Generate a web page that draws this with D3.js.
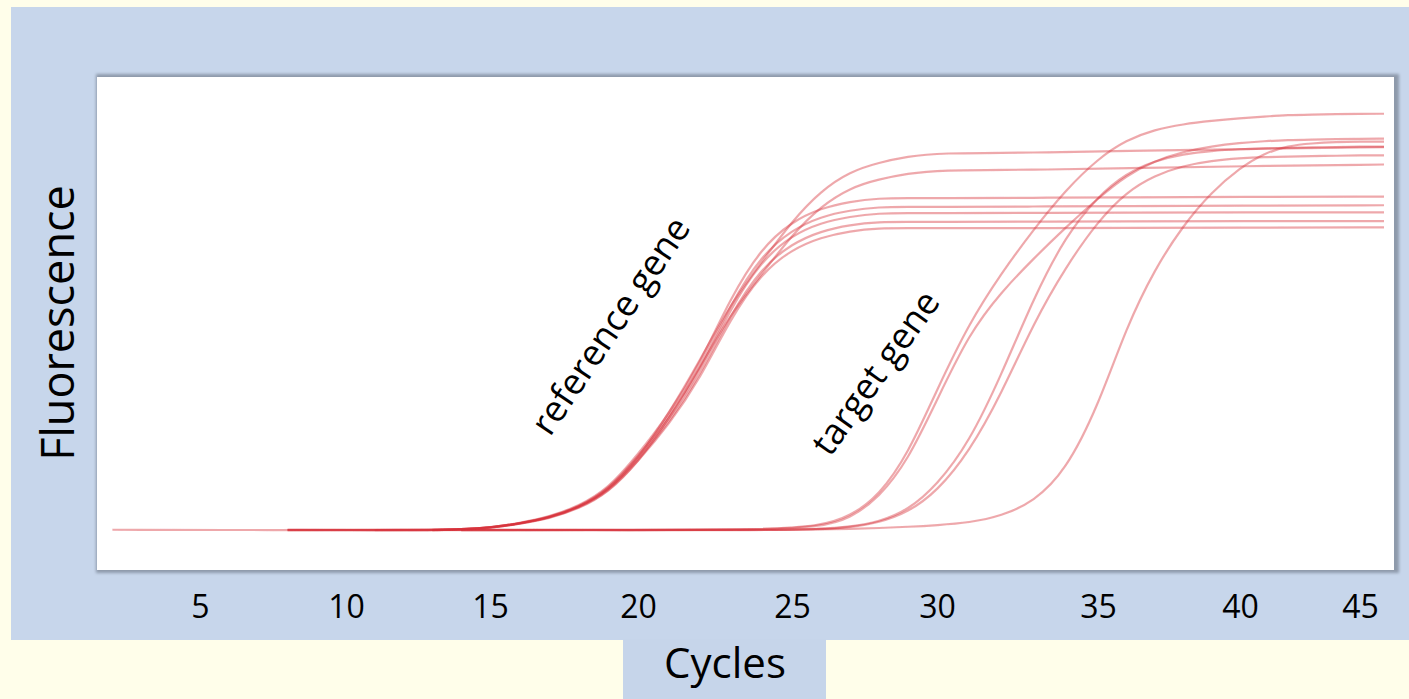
<!DOCTYPE html>
<html>
<head>
<meta charset="utf-8">
<script src="https://cdn.jsdelivr.net/npm/d3@7"></script>
<style>
  html, body { margin: 0; padding: 0; background: #fffeea; }
  svg { display: block; }
  text { font-family: "Open Sans", "Noto Sans", sans-serif; fill: #000; }
</style>
</head>
<body>
<svg id="chart" width="1409" height="699"></svg>
<script>
// ---------------- DATA ----------------
const xTicks = [5, 10, 15, 20, 25, 30, 35, 40, 45];
const xTitle = "Cycles";
const yTitle = "Fluorescence";
const labelRef = "reference gene";
const labelTarget = "target gene";

// reference gene curves (cycle, fluorescence)
const refCycles = [2, 8, 11, 13, 14, 15, 16, 17, 18, 19, 20, 21, 22, 23, 24, 25, 26, 27, 28, 29, 30, 33, 36, 40, 46];
const ref1 = [0.3, 0.2, 0.3, 0.3, 0.4, 0.8, 1.8, 3.2, 5.6, 9.6, 17.3, 28.2, 40.9, 54.5, 64.5, 74.5, 81.8, 86.4, 88.6, 90.0, 90.9, 90.9, 91.4, 91.8, 92.3];
const ref2 = [null, 0.3, 0.2, 0.3, 0.3, 0.8, 1.7, 3.0, 5.3, 9.2, 16.5, 26.9, 39.1, 52.1, 61.6, 71.2, 78.1, 82.5, 84.6, 85.9, 86.8, 86.8, 87.2, 87.7, 88.1];
const ref3 = [null, 0.2, 0.2, 0.2, 0.4, 0.8, 1.9, 3.4, 6.0, 10.2, 18.4, 28.0, 40.0, 56.0, 68.0, 74.4, 77.6, 79.2, 80.0, 80.0, 80.0, 80.1, 80.2, 80.3, 80.4];
const ref4 = [null, null, 0.2, 0.2, 0.4, 0.8, 1.8, 3.3, 5.8, 9.9, 17.9, 27.3, 39.0, 54.5, 66.2, 72.4, 75.6, 77.1, 77.9, 77.9, 77.9, 78.0, 78.1, 78.2, 78.3];
const ref5 = [null, null, null, 0.2, 0.4, 0.8, 1.8, 3.2, 5.7, 9.8, 17.6, 26.7, 38.2, 53.5, 64.9, 71.1, 74.1, 75.6, 76.4, 76.4, 76.4, 76.5, 76.5, 76.6, 76.6];
const ref6 = [null, null, null, 0.2, 0.4, 0.7, 1.8, 3.1, 5.6, 9.5, 17.1, 26.0, 37.2, 52.0, 63.2, 69.1, 72.1, 73.6, 74.3, 74.3, 74.3, 74.4, 74.4, 74.5, 74.5];
const ref7 = [null, null, null, 0.3, 0.4, 0.7, 1.7, 3.1, 5.5, 9.3, 16.7, 25.5, 36.4, 51.0, 61.9, 67.7, 70.6, 72.1, 72.8, 72.8, 72.8, 72.8, 72.9, 72.9, 73.0];

// target gene curves
const targetCycles = [2, 8, 14, 20, 24, 26, 27, 28, 29, 30, 31, 32, 33, 34, 35, 36, 37, 38, 39, 40, 41, 42, 43, 44, 45, 46];
const tgt1 = [null, 0.2, 0.3, 0.2, 0.3, 1.2, 3.5, 8.5, 18.5, 34, 50, 62, 72.5, 82, 89.5, 94, 96.5, 97.8, 98.6, 99.2, 99.6, 100, 100.1, 100.2, 100.3, 100.3];
const tgt2 = [null, null, 0.3, 0.2, 0.3, 1.0, 3.0, 8.0, 17.0, 31.5, 47.5, 57.5, 65.5, 73, 80, 85.5, 89, 91.2, 92.5, 93.3, 93.7, 94, 94.1, 94.2, 94.3, 94.3];
const tgt3 = [null, null, 0.2, 0.3, 0.2, 0.5, 1.0, 2.2, 5.0, 11.0, 21.3, 37.5, 56, 71, 80.5, 86, 89, 90.6, 91.4, 91.8, 92, 92.1, 92.2, 92.3, 92.4, 92.4];
const tgt4 = [null, 0.3, 0.2, 0.2, 0.2, 0.4, 0.9, 2.0, 4.5, 9.5, 19, 33, 50, 63.5, 74.5, 81.5, 85.5, 87.8, 89, 89.6, 89.9, 90, 90.1, 90.2, 90.3, 90.3];
const tgt5 = [null, null, 0.2, 0.3, 0.2, 0.4, 0.5, 0.7, 1.0, 1.4, 2.0, 3.6, 7.0, 14.5, 30, 49, 63, 73.5, 81.5, 87.3, 90.8, 92.6, 93.2, 93.5, 93.6, 93.6];

const refSeries = [ref1, ref2, ref3, ref4, ref5, ref6, ref7];
const targetSeries = [tgt1, tgt2, tgt3, tgt4, tgt5];

// ---------------- LAYOUT ----------------
const svg = d3.select("#chart");
const panel = { x: 11, y: 7, w: 1398, h: 633 };
const plot = { x: 97, y: 77, w: 1297, h: 493 };
const tickPx = [200, 346, 490, 638, 792, 937, 1098, 1240, 1360];

// background blue panel
svg.append("rect").attr("x", panel.x).attr("y", panel.y)
  .attr("width", panel.w).attr("height", panel.h).attr("fill", "#c7d6eb");

// "Cycles" box
svg.append("rect").attr("x", 623).attr("y", 639).attr("width", 203).attr("height", 60)
  .attr("fill", "#c6d5ea");

// shadow + plot area
const defs = svg.append("defs");
const f = defs.append("filter").attr("id", "shadow").attr("x", "-5%").attr("y", "-5%")
  .attr("width", "110%").attr("height", "110%");
f.append("feGaussianBlur").attr("stdDeviation", 1.6);
const soft = defs.append("filter").attr("id", "soft");
soft.append("feGaussianBlur").attr("stdDeviation", 0.45);
defs.append("clipPath").attr("id", "clip").append("rect")
  .attr("x", plot.x).attr("y", plot.y).attr("width", plot.w).attr("height", plot.h);

svg.append("rect").attr("x", plot.x - 1).attr("y", plot.y - 3)
  .attr("width", plot.w + 6).attr("height", plot.h + 6)
  .attr("fill", "#8e9aab").attr("filter", "url(#shadow)");
svg.append("rect").attr("x", plot.x).attr("y", plot.y)
  .attr("width", plot.w).attr("height", plot.h).attr("fill", "#ffffff");

// scales
const x = d3.scaleLinear().domain(xTicks).range(tickPx);
const y = d3.scaleLinear().domain([0, 100]).range([531, 115]);

const line = d3.line()
  .defined(d => d[1] !== null)
  .x(d => x(d[0])).y(d => y(d[1]))
  .curve(d3.curveBasis);

const g = svg.append("g").attr("clip-path", "url(#clip)")
  .append("g").attr("filter", "url(#soft)");

function drawGroup(cycles, seriesList, cls) {
  g.selectAll("path." + cls)
    .data(seriesList.map(s => s.map((v, i) => [cycles[i], v])))
    .join("path")
    .attr("class", cls)
    .attr("d", line)
    .attr("fill", "none")
    .attr("stroke", "#d6303a")
    .attr("stroke-opacity", 0.42)
    .attr("stroke-width", 2.2);
}
drawGroup(targetCycles, targetSeries, "tgt");
drawGroup(refCycles, refSeries, "ref");

// x axis (labels only)
const axis = svg.append("g").attr("transform", `translate(0, ${plot.y + plot.h})`)
  .call(d3.axisBottom(x).tickValues(xTicks).tickSize(0).tickFormat(d3.format("d")));
axis.select(".domain").remove();
axis.selectAll("text")
  .attr("y", 48).attr("dy", 0)
  .style("font-family", '"Open Sans", sans-serif')
  .style("font-size", "32px").attr("fill", "#000");

// axis titles
svg.append("text").attr("x", 725).attr("y", 678)
  .attr("text-anchor", "middle").style("font-size", "42px").text(xTitle);
svg.append("text").attr("transform", "translate(74, 323) rotate(-90)")
  .attr("text-anchor", "middle").style("font-size", "45px").text(yTitle);

// annotations
svg.append("text").attr("transform", "translate(611, 326) rotate(-56)")
  .attr("text-anchor", "middle").attr("dy", "0.33em")
  .style("font-size", "36px").text(labelRef);
svg.append("text").attr("transform", "translate(876, 373) rotate(-54.5)")
  .attr("text-anchor", "middle").attr("dy", "0.33em")
  .style("font-size", "36px").text(labelTarget);
</script>
</body>
</html>
